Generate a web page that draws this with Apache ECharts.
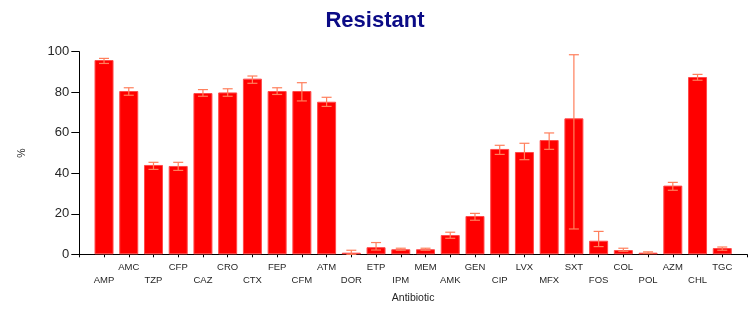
<!DOCTYPE html>
<html>
<head>
<meta charset="utf-8">
<script src="https://cdn.jsdelivr.net/npm/echarts@6/dist/echarts.min.js"></script>
<style>html,body{margin:0;padding:0;background:#fff}#c{width:750px;height:310px}</style>
</head>
<body>
<div id="c"></div>
<script>
const categories = ['AMP','AMC','TZP','CFP','CAZ','CRO','CTX','FEP','CFM','ATM','DOR','ETP','IPM','MEM','AMK','GEN','CIP','LVX','MFX','SXT','FOS','COL','POL','AZM','CHL','TGC'];
const values  = [95.9, 80.6, 44.1, 43.6, 79.6, 79.9, 86.7, 80.6, 80.6, 75.3, 0.8, 3.5, 2.5, 2.5, 9.5, 18.9, 52.0, 50.5, 56.4, 67.1, 6.7, 2.1, 0.8, 33.9, 87.5, 3.1];
const errLow  = [94.2, 78.5, 41.9, 41.4, 78.0, 78.0, 84.4, 78.9, 75.7, 73.0, 0.0, 2.1, 2.0, 2.0, 7.9, 16.8, 49.3, 46.7, 51.8, 12.5, 3.8, 1.5, 0.5, 31.6, 85.9, 2.0];
const errHigh = [96.7, 82.2, 45.4, 45.4, 81.3, 81.7, 88.0, 82.2, 84.7, 77.5, 2.0, 5.8, 3.0, 3.0, 10.9, 20.2, 53.8, 54.8, 59.9, 98.5, 11.3, 3.0, 1.2, 35.5, 88.8, 3.6];
const yTicks = [0, 20, 40, 60, 80, 100];

const FONT = "Arial, 'Liberation Sans', sans-serif";
const axisCats = [''].concat(categories, ['']);
const barData = ['-'].concat(values, ['-']);
const errData = categories.map((c, i) => [i + 1, errLow[i], errHigh[i]]);

const chart = echarts.init(document.getElementById('c'));
chart.setOption({
  animation: false,
  title: {
    text: 'Resistant', left: 'center', top: 5,
    textStyle: { color: '#0b0b86', fontSize: 22, fontWeight: 'bold', fontFamily: FONT }
  },
  grid: { left: 79.3, right: 0, top: 51.7, bottom: 55.7, containLabel: false },
  xAxis: {
    type: 'category', data: axisCats, boundaryGap: false,
    name: 'Antibiotic', nameLocation: 'middle', nameGap: 36,
    nameTextStyle: { color: '#262626', fontSize: 10.5, fontFamily: FONT },
    axisLine: { show: true, lineStyle: { color: '#000', width: 1 } },
    axisTick: { show: true, length: 3, interval: 0, lineStyle: { color: '#000' } },
    axisLabel: {
      interval: 0, margin: 6, color: '#262626', fontSize: 9.5, fontFamily: FONT, lineHeight: 13.5,
      formatter: (v, idx) => (idx % 2 === 1 ? '\n' + v : v)
    },
    splitLine: { show: false }
  },
  yAxis: {
    type: 'value', min: 0, max: 100, interval: 20,
    name: '%', nameLocation: 'middle', nameGap: 52,
    nameTextStyle: { color: '#262626', fontSize: 10.5, fontFamily: FONT },
    axisLine: { show: true, lineStyle: { color: '#000', width: 1 } },
    axisTick: { show: true, length: 8, lineStyle: { color: '#000' } },
    axisLabel: {
      margin: 10, color: '#262626', fontSize: 13, fontFamily: FONT,
      formatter: v => (yTicks.indexOf(v) >= 0 ? String(v) : '')
    },
    splitLine: { show: false }
  },
  series: [
    {
      type: 'bar', data: barData, barWidth: 19,
      itemStyle: { color: '#ff0000', borderColor: '#ff4a4a', borderWidth: 1 }
    },
    {
      type: 'custom', data: errData, z: 5,
      renderItem: (params, api) => {
        const x = api.value(0);
        const lo = api.coord([x, api.value(1)]);
        const hi = api.coord([x, api.value(2)]);
        const hw = 5;
        const st = { stroke: '#ff7f5c', lineWidth: 1.2 };
        return {
          type: 'group',
          children: [
            { type: 'line', shape: { x1: lo[0], y1: lo[1], x2: hi[0], y2: hi[1] }, style: st },
            { type: 'line', shape: { x1: lo[0] - hw, y1: lo[1], x2: lo[0] + hw, y2: lo[1] }, style: st },
            { type: 'line', shape: { x1: hi[0] - hw, y1: hi[1], x2: hi[0] + hw, y2: hi[1] }, style: st }
          ]
        };
      }
    }
  ]
});
</script>
</body>
</html>
